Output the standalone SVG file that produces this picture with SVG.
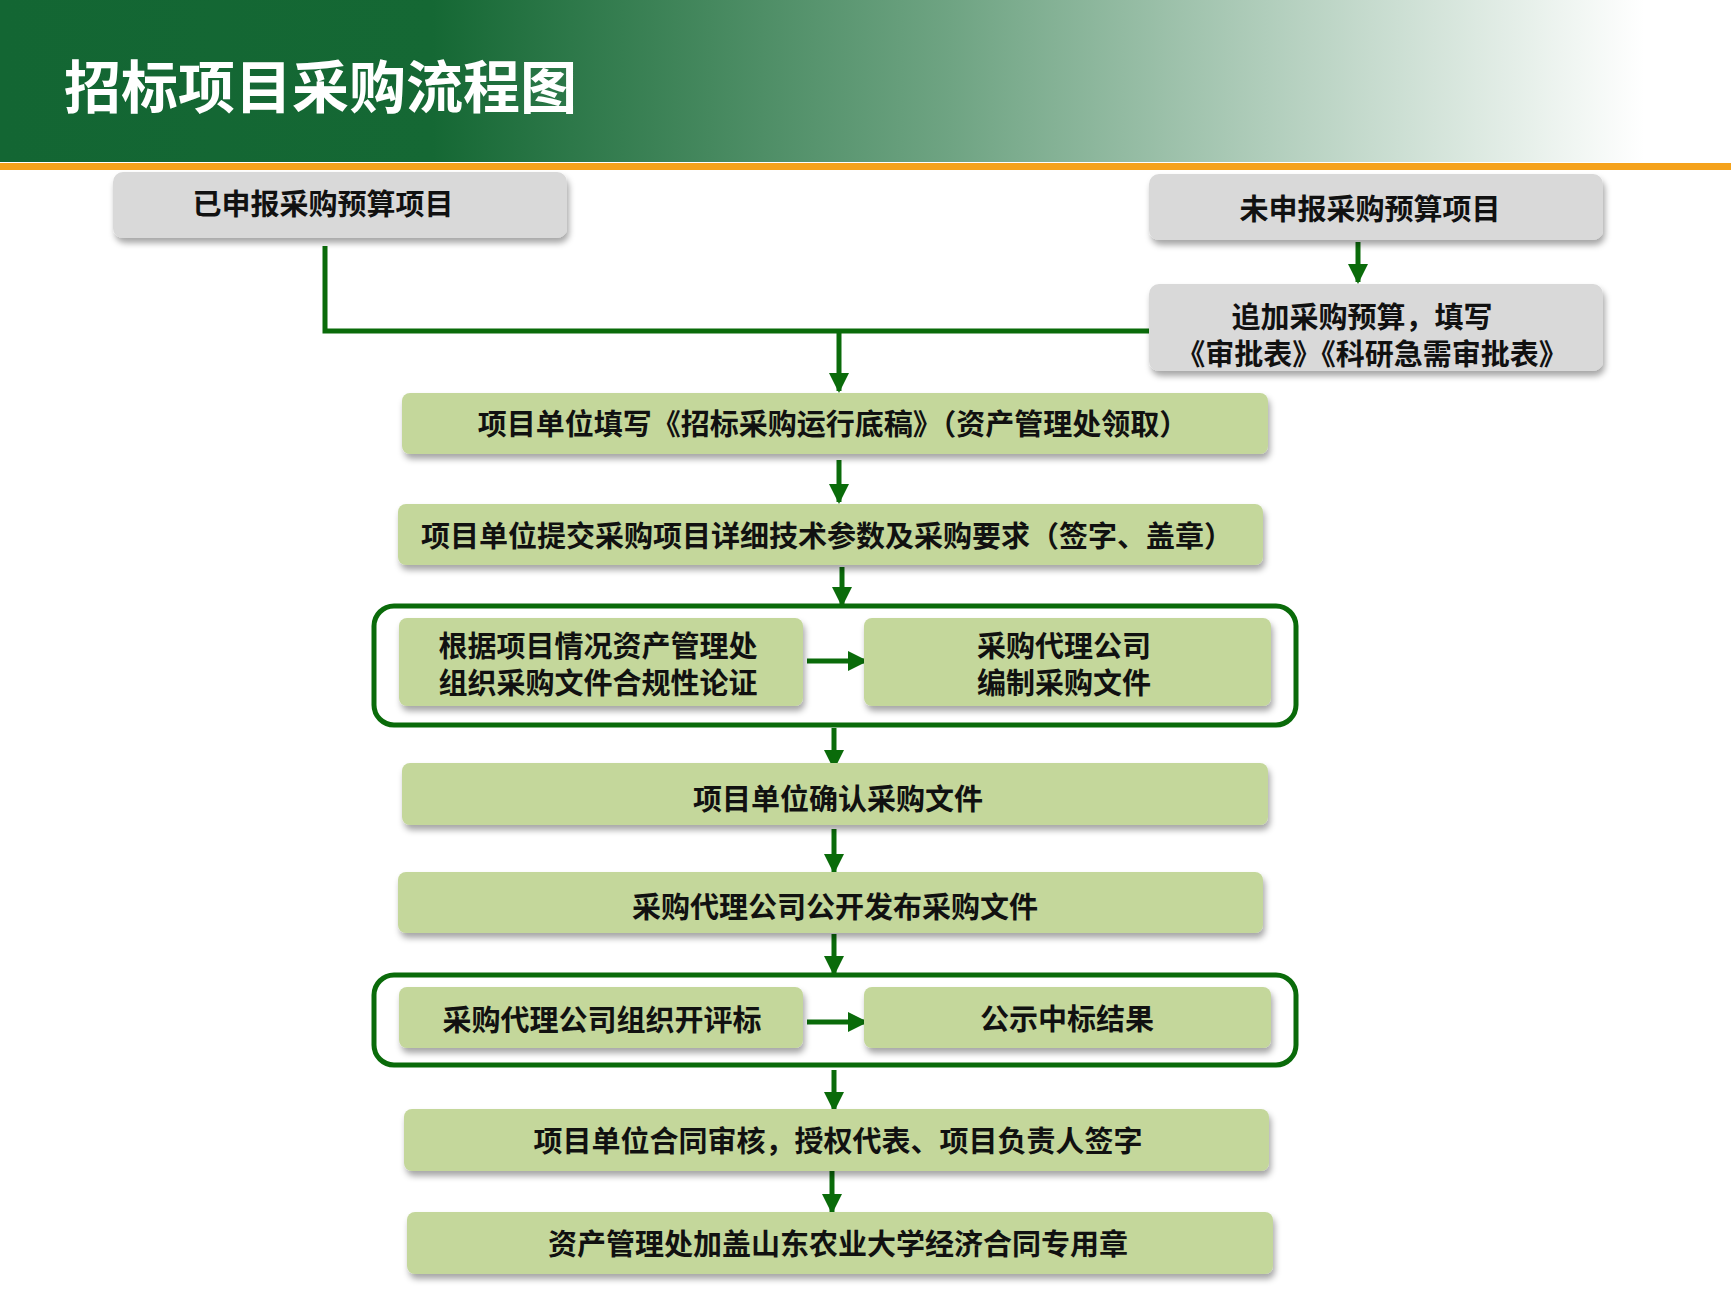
<svg xmlns="http://www.w3.org/2000/svg" width="1731" height="1303" viewBox="0 0 1731 1303">
<defs>
<linearGradient id="hg" x1="0" y1="0" x2="1" y2="0">
<stop offset="0" stop-color="#136633"/><stop offset="0.25" stop-color="#156834"/><stop offset="0.55" stop-color="#6fa483"/><stop offset="0.95" stop-color="#ffffff"/>
</linearGradient>
<filter id="sh" x="-5%" y="-20%" width="110%" height="150%"><feDropShadow dx="2" dy="5" stdDeviation="3" flood-color="#000" flood-opacity="0.35"/></filter>
<marker id="ah" viewBox="0 0 10 10" refX="9" refY="5" markerWidth="4" markerHeight="4" orient="auto"><path d="M0,0 L10,5 L0,10 z" fill="#0a6b0a"/></marker>
<style>
.g{fill:#d9d9d9;filter:url(#sh)}
.l{fill:#c4d79b;filter:url(#sh)}
.t{font-family:"Noto Sans CJK SC",sans-serif;font-weight:bold;font-size:29px;fill:#111;text-anchor:middle}
.c{stroke:#0a6b0a;stroke-width:5;fill:none}
.a{stroke:#0a6b0a;stroke-width:5;fill:none;marker-end:url(#ah)}
.f{stroke:#0a6b0a;stroke-width:5;fill:none}
</style>
</defs>
<rect x="0" y="0" width="1731" height="162" fill="url(#hg)"/>
<rect x="0" y="163" width="1731" height="7" fill="#f5a21b"/>
<text x="64" y="108" font-family="Noto Sans CJK SC,sans-serif" font-weight="bold" font-size="57" fill="#fff">招标项目采购流程图</text>
<g id="connectors">
<polyline class="c" points="325,246 325,331 1149,331"/>
<line class="a" x1="839" y1="331" x2="839" y2="391"/>
<line class="a" x1="1358" y1="242" x2="1358" y2="282"/>
<line class="a" x1="839" y1="460" x2="839" y2="502"/>
<line class="a" x1="842" y1="567" x2="842" y2="605"/>
<line class="a" x1="807" y1="661" x2="866" y2="661"/>
<line class="a" x1="834" y1="728" x2="834" y2="768"/>
<line class="a" x1="834" y1="829" x2="834" y2="872"/>
<line class="a" x1="834" y1="934" x2="834" y2="974"/>
<line class="a" x1="807" y1="1022" x2="866" y2="1022"/>
<line class="a" x1="834" y1="1070" x2="834" y2="1110"/>
<line class="a" x1="832" y1="1171" x2="832" y2="1212"/>
</g>
<g id="frame1"><rect class="f" x="374" y="606" width="922" height="119" rx="20"/></g>
<g id="frame2"><rect class="f" x="374" y="975" width="922" height="90" rx="20"/></g>
<g id="n1"><rect class="g" x="113" y="172" width="454" height="66" rx="10"/><text class="t" x="323" y="215">已申报采购预算项目</text></g>
<g id="n2"><rect class="g" x="1149" y="174" width="454" height="66" rx="10"/><text class="t" x="1370" y="220">未申报采购预算项目</text></g>
<g id="n3"><rect class="g" x="1149" y="284" width="454" height="87" rx="10"/><text class="t" x="1362" y="328">追加采购预算，填写</text><text class="t" x="1372" y="365">《审批表》《科研急需审批表》</text></g>
<g id="n4"><rect class="l" x="402" y="393" width="866" height="61" rx="8"/><text class="t" x="833" y="435">项目单位填写《招标采购运行底稿》（资产管理处领取）</text></g>
<g id="n5"><rect class="l" x="398" y="504" width="865" height="61" rx="8"/><text class="t" x="827" y="547">项目单位提交采购项目详细技术参数及采购要求（签字、盖章）</text></g>
<g id="n6"><rect class="l" x="399" y="618" width="404" height="88" rx="8"/><text class="t" x="598" y="657">根据项目情况资产管理处</text><text class="t" x="598" y="694">组织采购文件合规性论证</text></g>
<g id="n7"><rect class="l" x="864" y="618" width="407" height="88" rx="8"/><text class="t" x="1064" y="657">采购代理公司</text><text class="t" x="1064" y="694">编制采购文件</text></g>
<g id="n8"><rect class="l" x="402" y="763" width="866" height="62" rx="8"/><text class="t" x="838" y="810">项目单位确认采购文件</text></g>
<g id="n9"><rect class="l" x="398" y="872" width="865" height="61" rx="8"/><text class="t" x="835" y="918">采购代理公司公开发布采购文件</text></g>
<g id="n10"><rect class="l" x="399" y="987" width="404" height="61" rx="8"/><text class="t" x="602" y="1031">采购代理公司组织开评标</text></g>
<g id="n11"><rect class="l" x="864" y="987" width="407" height="61" rx="8"/><text class="t" x="1067" y="1030">公示中标结果</text></g>
<g id="n12"><rect class="l" x="404" y="1109" width="865" height="62" rx="8"/><text class="t" x="838" y="1152">项目单位合同审核，授权代表、项目负责人签字</text></g>
<g id="n13"><rect class="l" x="407" y="1212" width="866" height="62" rx="8"/><text class="t" x="838" y="1255">资产管理处加盖山东农业大学经济合同专用章</text></g>
</svg>
